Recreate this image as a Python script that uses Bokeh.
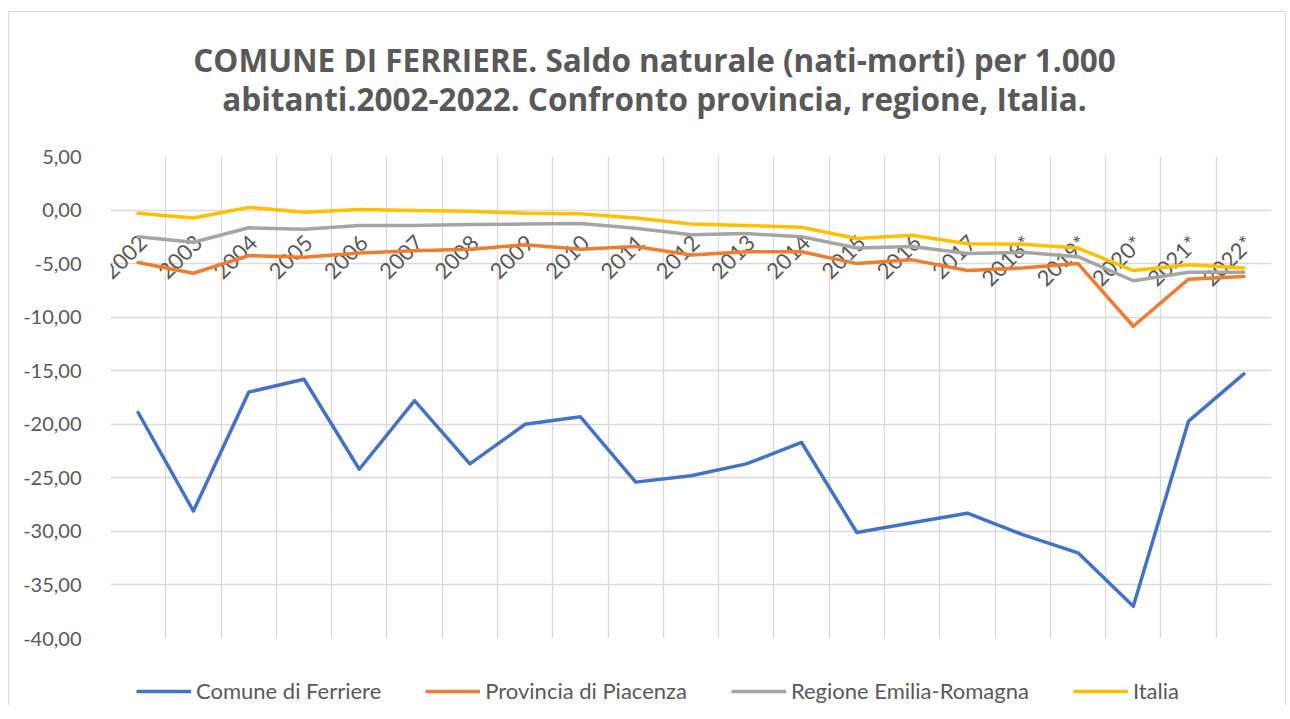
import math
from bokeh.plotting import figure
from bokeh.layouts import column
from bokeh.models import (ColumnDataSource, FixedTicker, CustomJSTickFormatter,
                          Label, Legend, LegendItem, Range1d)
from bokeh.core.properties import value
from bokeh.embed import file_html
from bokeh.resources import INLINE

# ---- data ----
years = ["2002", "2003", "2004", "2005", "2006", "2007", "2008", "2009", "2010",
         "2011", "2012", "2013", "2014", "2015", "2016", "2017", "2018*", "2019*",
         "2020*", "2021*", "2022*"]
comune = [-18.9, -28.1, -17.0, -15.8, -24.2, -17.8, -23.7, -20.0, -19.3, -25.4, -24.8,
          -23.7, -21.7, -30.1, -29.2, -28.3, -30.3, -32.0, -37.0, -19.7, -15.3]
provincia = [-4.9, -5.9, -4.25, -4.4, -4.0, -3.8, -3.65, -3.25, -3.65, -3.4, -4.2,
             -3.9, -3.9, -5.0, -4.65, -5.65, -5.4, -5.0, -10.85, -6.45, -6.2]
regione = [-2.5, -3.0, -1.65, -1.8, -1.45, -1.45, -1.35, -1.3, -1.25, -1.7, -2.3,
           -2.2, -2.5, -3.55, -3.4, -4.05, -3.95, -4.35, -6.6, -5.8, -5.8]
italia = [-0.3, -0.75, 0.25, -0.2, 0.05, -0.05, -0.1, -0.3, -0.35, -0.75, -1.3,
          -1.45, -1.6, -2.65, -2.35, -3.15, -3.2, -3.55, -5.65, -5.1, -5.4]
series_names = ["Comune di Ferriere", "Provincia di Piacenza",
                "Regione Emilia-Romagna", "Italia"]
series_colors = ["#4472C4", "#ED7D31", "#A5A5A5", "#FFC000"]
y_ticks = [5, 0, -5, -10, -15, -20, -25, -30, -35, -40]
title_lines = ["COMUNE DI FERRIERE. Saldo naturale (nati-morti) per 1.000",
               "abitanti.2002-2022. Confronto provincia, regione, Italia."]

FONT = "Lato"
TXT = "#595959"
GRID = "#D9D9D9"
W = 1276
ML, MR = 101, 14   # shared left/right borders (frames are aligned in the column)

n = len(years)
xs = [i + 0.5 for i in range(n)]
all_series = [comune, provincia, regione, italia]


def blank(h, yr=(0, 1)):
    f = figure(width=W, height=h, output_backend="svg", toolbar_location=None,
               x_range=Range1d(0, n), y_range=Range1d(*yr),
               x_axis_location=None, y_axis_location=None,
               min_border_left=ML, min_border_right=MR,
               min_border_top=0, min_border_bottom=0)
    f.outline_line_color = None
    f.grid.visible = False
    f.border_fill_color = "white"
    return f


# ---- title ----
TH = 120
pt = blank(TH)
for txt, base in zip(title_lines, [47, 86]):
    pt.add_layout(Label(x=544, y=TH - base, x_units="screen", y_units="screen",
                        text=txt, text_align="center", text_baseline="alphabetic",
                        text_font="Open Sans", text_font_style="bold",
                        text_font_size="31.5px", text_color=TXT))

# ---- main chart ----
p = figure(width=W, height=522, output_backend="svg", toolbar_location=None,
           x_range=Range1d(0, n), y_range=Range1d(-40, 5),
           x_axis_location=None,
           min_border_left=ML, min_border_right=MR,
           min_border_top=24, min_border_bottom=16)
p.outline_line_color = None
p.background_fill_color = "white"
p.border_fill_color = "white"

p.xgrid.ticker = FixedTicker(ticks=list(range(n + 1)))
p.xgrid.grid_line_color = GRID
p.xgrid.grid_line_width = 1.3
p.ygrid.grid_line_color = GRID
p.ygrid.grid_line_width = 1.3

p.yaxis.ticker = FixedTicker(ticks=y_ticks)
p.yaxis.formatter = CustomJSTickFormatter(code="return tick.toFixed(2).replace('.', ',');")
p.yaxis.axis_line_color = None
p.yaxis.major_tick_line_color = None
p.yaxis.minor_tick_line_color = None
p.yaxis.major_label_standoff = 23
p.yaxis.major_label_text_font = FONT
p.yaxis.major_label_text_font_size = "20px"
p.yaxis.major_label_text_color = TXT

cat_src = ColumnDataSource(dict(x=xs, y=[0] * n, t=years))
p.text(x="x", y="y", text="t", source=cat_src, angle=math.pi / 4,
       text_align="right", text_baseline="middle", x_offset=5, y_offset=29,
       text_font=value(FONT), text_font_size="22px", text_color=TXT)

for vals, col in zip(all_series, series_colors):
    p.line(xs, vals, line_color=col, line_width=3.5,
           line_join="round", line_cap="round")

# ---- legend (series redrawn out of view so the legend has real glyphs) ----
pl = blank(51, yr=(100, 101))
items = []
for nm, vals, col in zip(series_names, all_series, series_colors):
    r = pl.line(xs, vals, line_color=col, line_width=3.5)
    items.append(LegendItem(label=nm, renderers=[r]))
legend = Legend(items=items, orientation="horizontal", location=(26, 1),
                glyph_width=55, glyph_height=20, label_standoff=5, spacing=44,
                padding=0, margin=0, border_line_color=None,
                background_fill_alpha=0,
                label_text_font=FONT, label_text_font_size="22px",
                label_text_color=TXT)
pl.add_layout(legend)

layout = column(pt, p, pl, spacing=0, margin=(11, 0, 0, 8),
                styles={"border": "1px solid #D9D9D9", "border-bottom": "none"})
open("out.html", "w").write(file_html(layout, INLINE))
